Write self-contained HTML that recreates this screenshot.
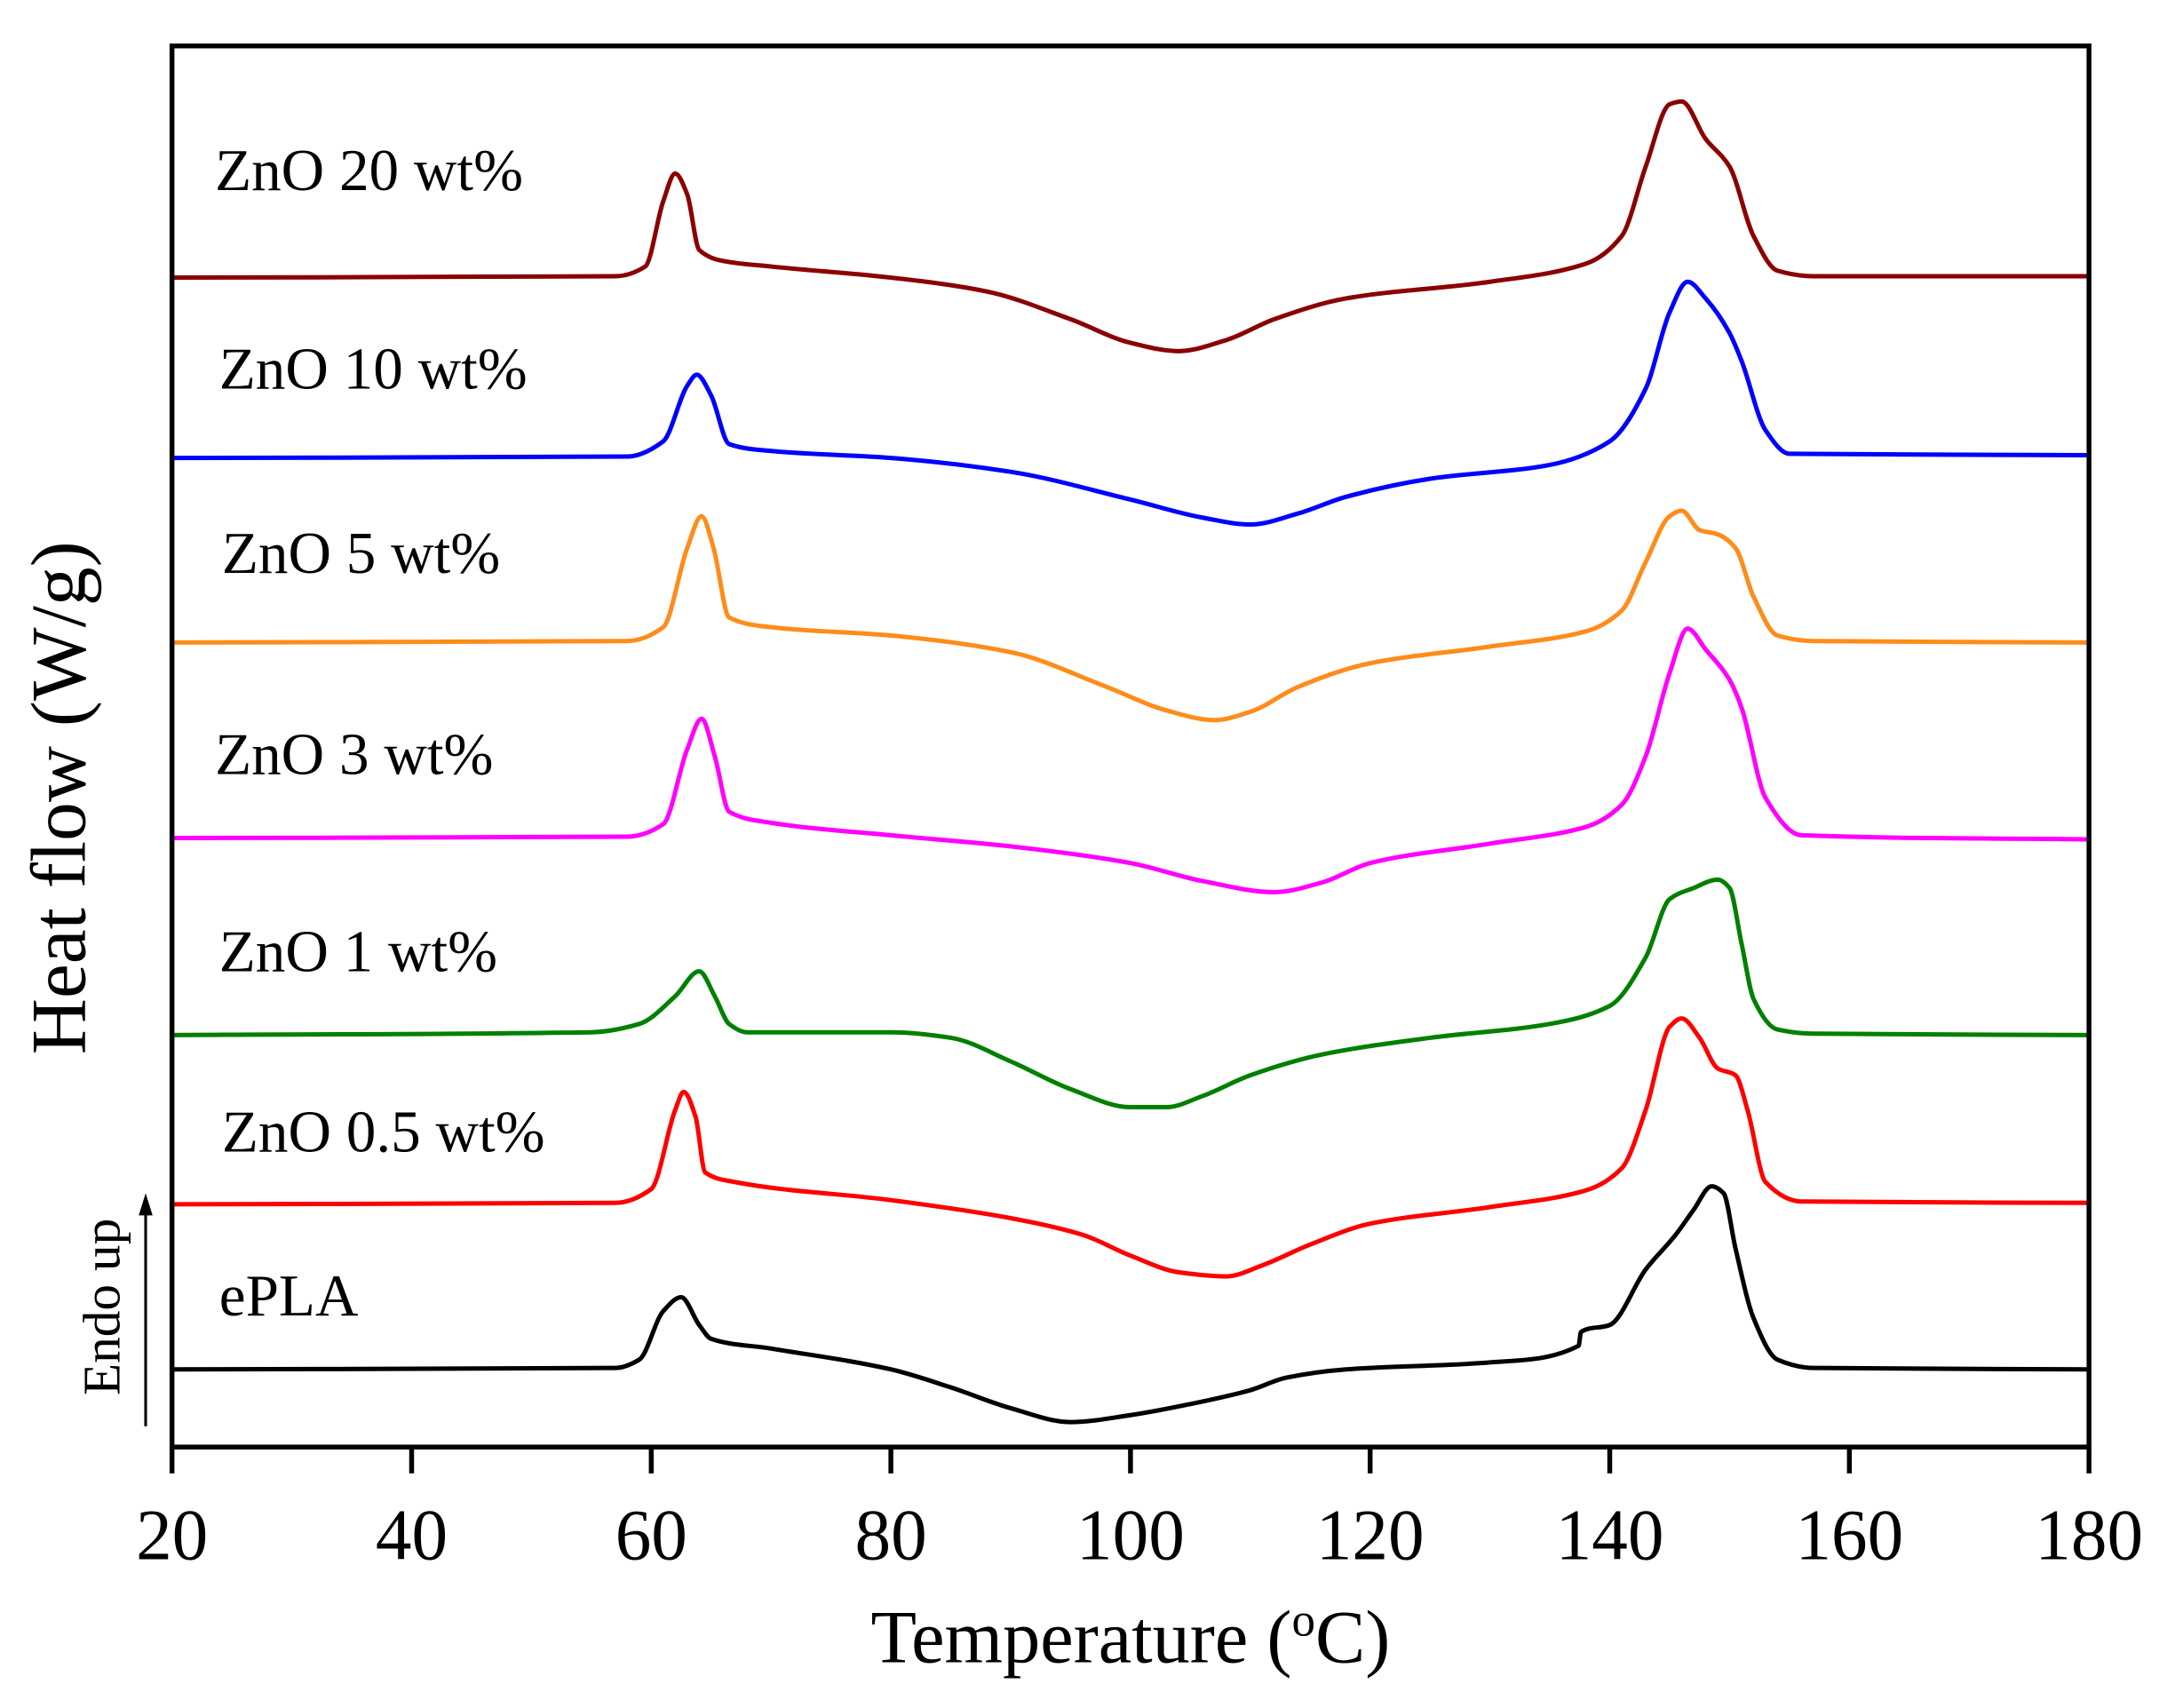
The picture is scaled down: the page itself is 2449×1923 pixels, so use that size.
<!DOCTYPE html>
<html><head><meta charset="utf-8"><style>html,body{margin:0;padding:0;background:#fff}svg{display:block}</style></head>
<body>
<svg id="s" width="2449" height="1923" viewBox="0 0 1568 1231" xmlns="http://www.w3.org/2000/svg" font-family="'Liberation Serif',serif">
<rect width="1568" height="1231" fill="#fff"/>
<g id="curves" fill="none" stroke-width="3.2" stroke-linejoin="round"></g>
<rect x="124" y="33" width="1382" height="1010" fill="none" stroke="#000" stroke-width="3.5"/>
<g stroke="#000" stroke-width="3.5" id="ticks"></g>
<g font-size="52" text-anchor="middle" id="tl"></g>
<text x="815" y="1198" font-size="54" text-anchor="middle">Temperature (<tspan font-size="34" dy="-19">o</tspan><tspan dy="19">C)</tspan></text>
<text transform="translate(61,575) rotate(-90)" font-size="56" text-anchor="middle">Heat flow (W/g)</text>
<text transform="translate(86,942) rotate(-90)" font-size="38" text-anchor="middle">Endo up</text>
<line x1="105" y1="1028" x2="105" y2="872" stroke="#000" stroke-width="2"/>
<polygon points="105,860 100,876 110,876" fill="#000"/>
<g font-size="43">
<text x="155" y="137">ZnO 20 wt%</text>
<text x="158" y="280">ZnO 10 wt%</text>
<text x="160" y="413">ZnO 5 wt%</text>
<text x="155" y="558">ZnO 3 wt%</text>
<text x="158" y="700">ZnO 1 wt%</text>
<text x="160" y="830">ZnO 0.5 wt%</text>
<text x="158" y="948">ePLA</text>
</g>
</svg>
<script>
const X=T=>124+(T-20)*8.6375;
const S={
"#8b0000":[[20,200],[57,199],[59.5,192],[61,145],[62,125],[63,140],[64,180],[66,188],[70,192],[80,200],[88,210],[95,230],[100,247],[104,253],[108,245],[112,230],[118,215],[130,203],[138,190],[141,170],[143,120],[145,75],[146,73],[148,100],[150,120],[152,170],[154,195],[157,199],[180,199]],
"#0000ff":[[20,330],[58,329],[61,318],[63,278],[63.8,270],[65,285],[66.5,320],[70,325],[80,330],[90,340],[100,360],[106,373],[110,378],[114,370],[118,358],[125,345],[135,335],[140,318],[143,280],[145,225],[146.5,203],[148,215],[150,240],[151,260],[153,310],[155,327],[180,328]],
"#ff8c1a":[[20,463],[58,462],[61,452],[63,395],[64.2,372],[65.2,395],[66.5,445],[70,452],[80,458],[90,470],[98,495],[103,512],[107,519],[110,513],[114,495],[120,478],[130,466],[138,455],[141,440],[143,405],[145,372],[146,368],[147.5,382],[149,385],[150.5,395],[152,430],[154,458],[157,462],[180,463]],
"#ff00ff":[[20,604],[58,603],[61,594],[63,540],[64.2,518],[65.3,545],[66.5,585],[70,593],[80,602],[90,610],[100,622],[106,635],[112,643],[116,636],[120,622],[130,608],[138,596],[141,580],[143,545],[145,485],[146.5,453],[148,468],[150,490],[151,510],[153,575],[156,602],[180,605]],
"#008000":[[20,746],[55,744],[59,738],[62,718],[64,700],[65.3,718],[66.5,738],[68,744],[80,744],[85,748],[90,765],[95,785],[100,798],[103,798],[106,790],[110,775],[116,760],[125,748],[135,738],[140,725],[143,690],[145,648],[147,640],[149,634],[150,640],[151,680],[152,720],[154,742],[157,745],[180,746]],
"#ff0000":[[20,868],[57,867],[60,857],[62,800],[62.7,787],[63.7,805],[64.5,845],[67,852],[80,865],[90,878],[96,890],[100,905],[104,917],[108,920],[111,912],[115,897],[120,882],[130,870],[138,858],[141,842],[143,800],[145,740],[146,734],[147.5,748],[149,770],[150.5,775],[151.5,800],[153,852],[156,866],[180,867]],
"#000000":[[20,987],[57,986],[59,980],[61,945],[62.5,935],[64,955],[65,965],[70,972],[80,987],[85,1000],[90,1015],[95,1025],[100,1020],[105,1012],[110,1002],[113,993],[118,987],[130,982],[137.4,970],[137.6,960],[140,955],[143,915],[145.5,890],[147,872],[148.5,855],[149.5,860],[150.5,900],[152,950],[154,980],[157,986],[180,987]]
};
const ns="http://www.w3.org/2000/svg",g=document.getElementById('curves');
function mono(p){const n=p.length,d=[],m=[];
for(let i=0;i<n-1;i++)d.push((p[i+1][1]-p[i][1])/(p[i+1][0]-p[i][0]));
m[0]=d[0];m[n-1]=d[n-2];
for(let i=1;i<n-1;i++){if(d[i-1]*d[i]<=0)m[i]=0;else{const h0=p[i][0]-p[i-1][0],h1=p[i+1][0]-p[i][0];const w1=2*h1+h0,w2=h1+2*h0;m[i]=(w1+w2)/(w1/d[i-1]+w2/d[i]);}}
let s="M"+p[0][0]+","+p[0][1];
for(let i=0;i<n-1;i++){const h=(p[i+1][0]-p[i][0])/3;s+=` C${p[i][0]+h},${p[i][1]+m[i]*h} ${p[i+1][0]-h},${p[i+1][1]-m[i+1]*h} ${p[i+1][0]},${p[i+1][1]}`;}
return s;}
for(const c in S){const p=S[c].map(a=>[X(a[0]),a[1]]);
const e=document.createElementNS(ns,'path');e.setAttribute('d',mono(p));e.setAttribute('stroke',c);g.appendChild(e);}
const tk=document.getElementById('ticks'),tl=document.getElementById('tl');
for(let T=20;T<=180;T+=20){const x=X(T);const l=document.createElementNS(ns,'line');l.setAttribute('x1',x);l.setAttribute('x2',x);l.setAttribute('y1',1043);l.setAttribute('y2',1062);tk.appendChild(l);
const t=document.createElementNS(ns,'text');t.setAttribute('x',x);t.setAttribute('y',1124);t.textContent=T;tl.appendChild(t);}
</script>
</body></html>
